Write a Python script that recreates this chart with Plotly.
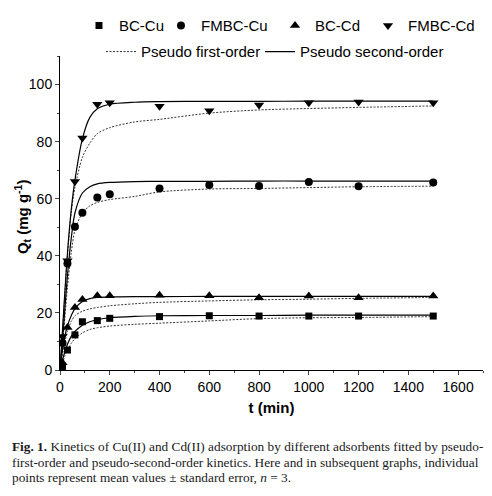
import plotly.graph_objects as go

# measured time points (min)
t_obs = [10, 30, 60, 90, 150, 200, 400, 600, 800, 1000, 1200, 1500]

bc_cu = [1.0, 7.0, 12.3, 16.9, 17.3, 18.1, 18.7, 19.0, 18.9, 18.9, 18.9, 18.9]
fmbc_cu = [9.5, 37.3, 50.2, 55.1, 60.4, 61.6, 63.6, 64.8, 64.5, 65.9, 64.4, 65.7]
bc_cd = [2.5, 14.9, 21.9, 24.7, 26.0, 26.0, 26.2, 26.0, 25.3, 25.9, 25.3, 25.9]
fmbc_cd = [11.7, 38.3, 66.0, 81.3, 93.1, 93.6, 92.4, 90.8, 92.8, 93.6, 93.9, 93.6]

# fitted curves
t_fit = [0, 10, 20, 30, 45, 60, 90, 120, 150, 200, 300, 400, 600, 800, 1000, 1200, 1500]

bc_cu_pfo = [0, 2.5, 5.0, 7.0, 9.3, 11.0, 13.0, 14.2, 14.8, 15.4, 16.0, 16.4, 17.2, 18.0, 18.3, 18.4, 18.7]
bc_cu_pso = [0, 3.5, 6.5, 9.0, 11.8, 13.5, 15.7, 16.9, 17.6, 18.3, 18.8, 19.0, 19.1, 19.1, 19.2, 19.2, 19.2]
fmbc_cu_pfo = [0, 9.0, 19.0, 29.0, 41.0, 49.0, 55.0, 57.5, 58.7, 59.7, 60.8, 62.4, 63.4, 63.6, 63.9, 64.2, 64.4]
fmbc_cu_pso = [0, 10.0, 22.0, 33.0, 46.0, 55.0, 62.0, 64.2, 65.2, 65.7, 66.0, 66.1, 66.1, 66.2, 66.2, 66.2, 66.2]
bc_cd_pfo = [0, 5.5, 10.0, 13.5, 17.0, 19.0, 20.6, 21.4, 21.9, 22.5, 23.2, 23.7, 24.2, 24.6, 24.8, 25.1, 25.4]
bc_cd_pso = [0, 7.0, 12.0, 15.5, 19.0, 21.5, 24.0, 25.0, 25.4, 25.6, 25.7, 25.7, 25.8, 25.8, 25.8, 25.8, 25.8]
fmbc_cd_pfo = [0, 13.0, 27.0, 40.0, 55.0, 64.0, 74.5, 79.5, 82.8, 84.9, 86.9, 87.8, 90.0, 91.1, 91.6, 92.0, 92.5]
fmbc_cd_pso = [0, 14.0, 28.0, 41.0, 56.0, 66.5, 81.0, 88.5, 91.5, 93.1, 93.8, 94.0, 94.1, 94.1, 94.2, 94.2, 94.2]

caption_lines = [
    "<b>Fig. 1.</b> Kinetics of Cu(II) and Cd(II) adsorption by different adsorbents fitted by pseudo-",
    "first-order and pseudo-second-order kinetics. Here and in subsequent graphs, individual",
    "points represent mean values \u00b1 standard error, <i>n</i> = 3.",
]

series = [
    ("BC-Cu", bc_cu, "square", 7, bc_cu_pfo, bc_cu_pso),
    ("FMBC-Cu", fmbc_cu, "circle", 8, fmbc_cu_pfo, fmbc_cu_pso),
    ("BC-Cd", bc_cd, "triangle-up", 9, bc_cd_pfo, bc_cd_pso),
    ("FMBC-Cd", fmbc_cd, "triangle-down", 9, fmbc_cd_pfo, fmbc_cd_pso),
]

# one single-entry legend per item, so each can sit where the original has it
marker_legend_x = [0.0449, 0.2387, 0.5083, 0.7281]
line_legend_x = [0.0969, 0.4729]
row1_y, row2_y = 1.149, 1.0659

fig = go.Figure()

# fitted lines first, so the markers sit on top
for i, (name, _, _, _, pfo, pso) in enumerate(series):
    fig.add_trace(go.Scatter(
        x=t_fit, y=pfo, mode="lines", name="Pseudo first-order",
        line=dict(color="#333333", width=1, dash="2px,1.5px", shape="spline", smoothing=0.8),
        showlegend=(i == 0), legend="legend6",
    ))
    fig.add_trace(go.Scatter(
        x=t_fit, y=pso, mode="lines", name="Pseudo second-order",
        line=dict(color="black", width=1.2, shape="spline", smoothing=0.8),
        showlegend=(i == 0), legend="legend7",
    ))

for i, (name, vals, symbol, size, _, _) in enumerate(series):
    fig.add_trace(go.Scatter(
        x=t_obs, y=vals, mode="markers", name=name,
        marker=dict(symbol=symbol, size=size, color="black"),
        legend=f"legend{i + 2}",
    ))

axis_font = dict(family="Liberation Sans, Arial, sans-serif", size=14, color="black")


def legend_box(x, y):
    return dict(orientation="h", x=x, y=y, xanchor="left", yanchor="top",
                font=dict(size=15), itemwidth=30, bgcolor="rgba(0,0,0,0)")


legends = {f"legend{i + 2}": legend_box(x, row1_y) for i, x in enumerate(marker_legend_x)}
legends["legend6"] = legend_box(line_legend_x[0], row2_y)
legends["legend7"] = legend_box(line_legend_x[1], row2_y)

fig.update_layout(
    width=492, height=496,
    margin=dict(l=60, r=9, t=56, b=126, autoexpand=False),
    paper_bgcolor="white", plot_bgcolor="white",
    font=axis_font,
    xaxis=dict(
        range=[0, 1700], dtick=200, tick0=0, ticks="outside", ticklen=4,
        minor=dict(dtick=100, ticks="outside", ticklen=2),
        showline=True, linecolor="black", linewidth=1, showgrid=False, zeroline=False,
        automargin=False,
        title=dict(text="<b>t (min)</b>", font=dict(size=15), standoff=8),
    ),
    yaxis=dict(
        range=[0, 110], dtick=20, tick0=0, ticks="outside", ticklen=4,
        minor=dict(dtick=10, ticks="outside", ticklen=2),
        showline=True, linecolor="black", linewidth=1, showgrid=False, zeroline=False,
        automargin=False,
    ),
    **legends,
)

fig.add_annotation(
    xref="paper", yref="paper", x=-0.09, y=0.49, xanchor="center", yanchor="middle",
    textangle=-90, showarrow=False,
    text="<b>Q<sub>t</sub> (mg g<sup>-1</sup>)</b>", font=dict(size=15),
)

for k, line in enumerate(caption_lines):
    fig.add_annotation(
        xref="paper", yref="paper", x=-0.118, y=-0.245 - k * 0.0494,
        xanchor="left", yanchor="middle", align="left", showarrow=False,
        font=dict(family="Liberation Serif, serif", size=13.3, color="#1a1a1a"),
        text=line,
    )

# drop the page's default body margin so the figure starts at the window corner
fig.write_html("out.html", config={"displayModeBar": False},
               post_script="document.body.style.margin = '0px';")
